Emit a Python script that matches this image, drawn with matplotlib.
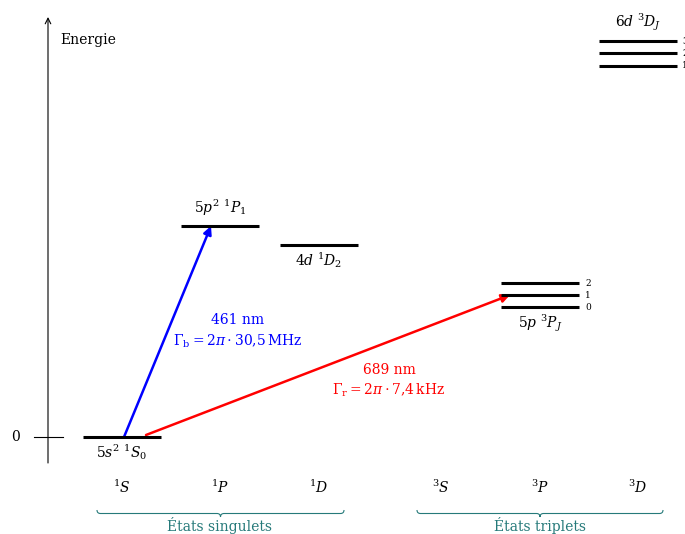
import matplotlib
matplotlib.use("Agg")
import matplotlib.pyplot as plt
from matplotlib.path import Path
from matplotlib.patches import PathPatch, FancyArrowPatch

plt.rcParams['font.family'] = ['DejaVu Serif']
plt.rcParams['mathtext.fontset'] = 'dejavuserif'

# ---- data ----
columns = ["$^1S$", "$^1P$", "$^1D$", "$^3S$", "$^3P$", "$^3D$"]
col_x = [122, 220, 319, 441, 540, 638]
groups = ["États singulets", "États triplets"]

level_names = ["$5s^2\\ ^1S_0$", "$5p^2\\ ^1P_1$", "$4d\\ ^1D_2$", "$5p\\ ^3P_J$", "$6d\\ ^3D_J$"]
level_col = [0, 1, 2, 4, 5]
level_energies = [[0], [211], [192], [154, 142, 130], [396, 384, 371]]
level_J = [None, None, None, ["2", "1", "0"], ["3", "2", "1"]]

transitions = ["461 nm", "689 nm"]
gammas = ["$\\Gamma_\\mathrm{b} = 2\\pi\\cdot 30{,}5\\,\\mathrm{MHz}$",
          "$\\Gamma_\\mathrm{r} = 2\\pi\\cdot 7{,}4\\,\\mathrm{kHz}$"]

W, H = 685, 534
fig = plt.figure(figsize=(W / 100, H / 100), dpi=100)
ax = fig.add_axes([0, 0, 1, 1])
ax.set_xlim(0, W)
ax.set_ylim(437 - H, 437)
ax.axis('off')

teal = '#267a7a'
fs = 10

# energy axis
ax.annotate('', xy=(48, 420), xytext=(48, -26),
            arrowprops=dict(arrowstyle='->', lw=0.8, color='black',
                            shrinkA=0, shrinkB=0, mutation_scale=10))
ax.plot([34, 63], [0, 0], color='black', lw=0.8)
ax.text(20, 0, "0", ha='right', va='center', fontsize=fs)
ax.text(60, 397, "Energie", ha='left', va='center', fontsize=fs)

half = 39
for name, c, ens, js in zip(level_names, level_col, level_energies, level_J):
    x = col_x[c]
    for i, e in enumerate(ens):
        ax.plot([x - half, x + half], [e, e], color='black', lw=2.2,
                solid_capstyle='butt')
        if js is not None:
            jx = x + half + 6 if c != 5 else 682
            ax.text(jx, e, js[i], ha='left', va='center', fontsize=6.5)
    if c in (1, 5):
        ax.text(x, max(ens) + 8, name, ha='center', va='bottom', fontsize=fs)
    else:
        ax.text(x, min(ens) - 5, name, ha='center', va='top', fontsize=fs)

# column labels
for lab, x in zip(columns, col_x):
    ax.text(x, -50, lab, ha='center', va='center', fontsize=fs)

# braces (tip pointing down)
def brace(x0, x1, y, d=3.5, c=teal):
    xm = (x0 + x1) / 2
    verts = [(x0, y), (x0, y - d), (x0 + d, y - d),
             (xm - d, y - d), (xm, y - d), (xm, y - 2 * d),
             (xm, y - d), (xm + d, y - d),
             (x1 - d, y - d), (x1, y - d), (x1, y)]
    codes = [Path.MOVETO, Path.CURVE3, Path.CURVE3,
             Path.LINETO, Path.CURVE3, Path.CURVE3,
             Path.CURVE3, Path.CURVE3,
             Path.LINETO, Path.CURVE3, Path.CURVE3]
    ax.add_patch(PathPatch(Path(verts, codes), fill=False, edgecolor=c, lw=0.8))

brace(97, 344, -73)
brace(417, 663, -73)
ax.text(220, -89, groups[0], ha='center', va='center', fontsize=fs, color=teal)
ax.text(540, -89, groups[1], ha='center', va='center', fontsize=fs, color=teal)

# transitions
arr_b = FancyArrowPatch((124, 0), (211, level_energies[1][0]), arrowstyle='-|>',
                        mutation_scale=12, lw=1.8, color='blue',
                        shrinkA=0, shrinkB=0)
ax.add_patch(arr_b)
arr_r = FancyArrowPatch((146, 2), (510, level_energies[3][1]), arrowstyle='-|>',
                        mutation_scale=12, lw=1.8, color='red',
                        shrinkA=0, shrinkB=0)
ax.add_patch(arr_r)

ax.text(238, 117, transitions[0], ha='center', va='center', fontsize=fs, color='blue')
ax.text(238, 96, gammas[0], ha='center', va='center', fontsize=fs, color='blue')
ax.text(389, 67, transitions[1], ha='center', va='center', fontsize=fs, color='red')
ax.text(389, 47, gammas[1], ha='center', va='center', fontsize=fs, color='red')

fig.savefig("out.png", dpi=100)
